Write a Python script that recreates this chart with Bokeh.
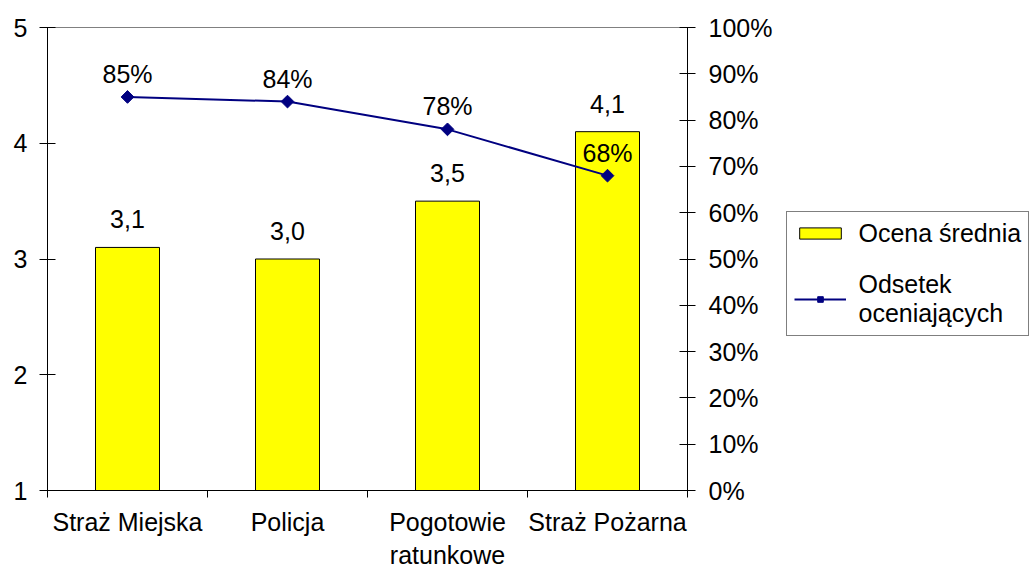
import numpy as np
from bokeh.plotting import figure
from bokeh.layouts import row
from bokeh.models import (LinearAxis, Range1d, FixedTicker, PrintfTickFormatter,
                          Legend, LegendItem)
from bokeh.embed import file_html
from bokeh.resources import INLINE
from bokeh.core.properties import value

categories = ["Straż Miejska", "Policja", "Pogotowie\nratunkowe", "Straż Pożarna"]
mean_score = [3.1, 3.0, 3.5, 4.1]
pct_rating = [85, 84, 78, 68]
left_ticks = [1, 2, 3, 4, 5]
right_ticks = [0, 10, 20, 30, 40, 50, 60, 70, 80, 90, 100]
series_names = ["Ocena średnia", "Odsetek\noceniających"]

FONT = "Liberation Sans"
FS = "25px"
BAR_FILL = "#FFFF00"
LINE_COL = "#000080"
n = len(categories)
centers = [i + 0.5 for i in range(n)]
boundaries = list(range(n + 1))

p = figure(width=777, height=572, x_range=Range1d(0, n),
           y_range=Range1d(left_ticks[0], left_ticks[-1]),
           output_backend="svg", toolbar_location=None,
           min_border_left=47, min_border_right=90,
           min_border_top=27, min_border_bottom=81)
p.extra_y_ranges = {"pct": Range1d(right_ticks[0], right_ticks[-1])}
p.xgrid.visible = False
p.ygrid.visible = False
p.outline_line_color = "#808080"
p.background_fill_color = "white"
p.border_fill_color = "white"

# x axis
xa = p.xaxis[0]
xa.ticker = FixedTicker(ticks=centers, minor_ticks=boundaries)
xa.major_label_overrides = {c: lab for c, lab in zip(centers, categories)}
xa.major_tick_out = 0
xa.major_tick_in = 0
xa.minor_tick_out = 7
xa.minor_tick_in = 0
xa.minor_tick_line_color = "black"
xa.axis_line_color = "black"
xa.major_label_standoff = 10
xa.major_label_text_font = FONT
xa.major_label_text_font_size = FS
xa.major_label_text_color = "black"

# left axis
ya = p.yaxis[0]
ya.ticker = FixedTicker(ticks=left_ticks, minor_ticks=[])
ya.major_tick_in = 8
ya.major_tick_out = 8
ya.major_tick_line_color = "black"
ya.axis_line_color = "black"
ya.major_label_standoff = 12
ya.major_label_text_font = FONT
ya.major_label_text_font_size = FS
ya.major_label_text_color = "black"

# right axis
ra = LinearAxis(y_range_name="pct", ticker=FixedTicker(ticks=right_ticks, minor_ticks=[]),
                formatter=PrintfTickFormatter(format="%d%%"))
ra.major_tick_in = 8
ra.major_tick_out = 8
ra.major_tick_line_color = "black"
ra.axis_line_color = "black"
ra.major_label_standoff = 13
ra.major_label_text_font = FONT
ra.major_label_text_font_size = FS
ra.major_label_text_color = "black"
p.add_layout(ra, "right")

p.vbar(x=centers, top=mean_score, bottom=left_ticks[0], width=0.4,
       fill_color=BAR_FILL, line_color="black", line_width=1)
p.line(x=centers, y=pct_rating, y_range_name="pct", line_color=LINE_COL, line_width=2)
p.scatter(x=centers, y=pct_rating, y_range_name="pct", marker="square",
          angle=np.pi / 4, size=9, fill_color=LINE_COL, line_color=LINE_COL)

p.text(x=centers, y=mean_score, text=[f"{v:.1f}".replace(".", ",") for v in mean_score],
       text_align="center", text_baseline="middle", y_offset=-28,
       text_font=value(FONT), text_font_size=FS, text_color="black")
p.text(x=centers, y=pct_rating, text=[f"{v}%" for v in pct_rating], y_range_name="pct",
       text_align="center", text_baseline="middle", y_offset=-23,
       text_font=value(FONT), text_font_size=FS, text_color="black")

# legend panel: a second figure whose swatch renderers lie outside its view
lg = figure(width=252, height=572, output_backend="svg", toolbar_location=None,
            min_border=0, x_range=Range1d(-20, -19), y_range=Range1d(-20, -19))
lg.axis.visible = False
lg.grid.visible = False
lg.outline_line_color = None
lg.background_fill_color = "white"
lg.border_fill_color = "white"
lb = lg.vbar(x=centers, top=mean_score, width=0.4, fill_color=BAR_FILL,
             line_color="black", line_width=1)
ll = lg.line(x=centers, y=pct_rating, line_color=LINE_COL, line_width=2)
lm = lg.scatter(x=centers, y=pct_rating, marker="square", angle=np.pi / 4, size=9,
                fill_color=LINE_COL, line_color=LINE_COL)

legend = Legend(items=[LegendItem(label=series_names[0], renderers=[lb]),
                       LegendItem(label=series_names[1], renderers=[ll, lm])],
                location=(8.5, 154.5), label_text_font=FONT, label_text_font_size=FS,
                label_text_color="black",
                glyph_width=52, glyph_height=14,
                label_standoff=13, padding=7, spacing=22, margin=0,
                border_line_color="black", border_line_width=1,
                background_fill_color="white", background_fill_alpha=1.0)
lg.add_layout(legend)

layout = row(p, lg, spacing=0)
open("out.html", "w").write(file_html(layout, INLINE))
